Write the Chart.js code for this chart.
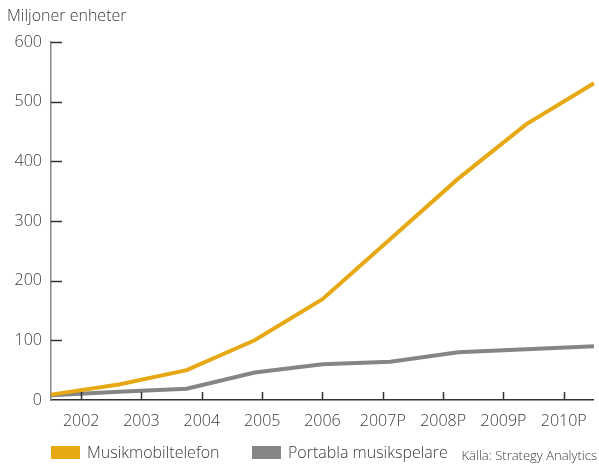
<!DOCTYPE html>
<html>
<head>
<meta charset="utf-8">
<script src="https://cdn.jsdelivr.net/npm/chart.js@4"></script>
<style>
  body { margin: 0; background: #fff; }
  #wrap { width: 599px; height: 464px; position: relative; }
</style>
</head>
<body>
<div id="wrap"><canvas id="chartMusik"></canvas></div>
<script>
const years = ["2002", "2003", "2004", "2005", "2006", "2007P", "2008P", "2009P", "2010P"];
const mobiltelefon = [9, 26, 50, 100, 169, 270, 371, 462, 531];
const musikspelare = [8, 14, 19, 46, 60, 64, 80, 85, 90];
const yTicks = [0, 100, 200, 300, 400, 500, 600];

const FONT = "'Open Sans', 'Liberation Sans', sans-serif";
const textColor = "#3a3a3a";

// tick marks pointing into the plot, title, legend and source line
const extras = {
    id: 'extras',
    afterDraw(chart) {
        let ctx = chart.ctx;
        let area = chart.chartArea;
        let xs = chart.scales.x2;
        let ys = chart.scales.y;

        ctx.save();
        ctx.strokeStyle = "#333";
        ctx.lineWidth = 1.5;
        ctx.beginPath();
        for (let i = 0; i < years.length; i++) {
            let px = Math.round(xs.getPixelForTick(i)) + 0.5;
            ctx.moveTo(px, area.bottom);
            ctx.lineTo(px, area.bottom - 8);
        }
        for (let v of yTicks) {
            if (v === 0) continue;
            let py = Math.round(ys.getPixelForValue(v)) + 0.5;
            ctx.moveTo(area.left, py);
            ctx.lineTo(area.left + 11, py);
        }
        ctx.stroke();

        ctx.fillStyle = textColor;
        ctx.font = "300 16px " + FONT;
        ctx.textBaseline = "alphabetic";
        ctx.textAlign = "left";
        ctx.fillText("Miljoner enheter", 7, 21);

        // legend
        let ds = chart.data.datasets;
        let lx = [area.left, 252];
        for (let i = 0; i < ds.length; i++) {
            ctx.fillStyle = ds[i].borderColor;
            ctx.fillRect(lx[i], 446, 29, 13);
            ctx.fillStyle = textColor;
            ctx.font = "300 16px " + FONT;
            ctx.fillText(ds[i].label, lx[i] + 36, 458);
        }

        ctx.font = "300 13px " + FONT;
        ctx.textAlign = "right";
        ctx.fillText("Källa: Strategy Analytics", 597, 460);
        ctx.restore();
    }
};

new Chart(document.getElementById("chartMusik"), {
    type: 'line',
    data: {
        labels: years,
        datasets: [{
            label: "Musikmobiltelefon",
            data: mobiltelefon,
            borderColor: "#E6A813",
            backgroundColor: "#E6A813",
            borderWidth: 4,
            pointRadius: 0,
            tension: 0
        }, {
            label: "Portabla musikspelare",
            data: musikspelare,
            borderColor: "#858585",
            backgroundColor: "#858585",
            borderWidth: 4,
            pointRadius: 0,
            tension: 0
        }]
    },
    options: {
        responsive: true,
        maintainAspectRatio: false,
        animation: false,
        layout: { padding: { top: 42, right: 1, left: 0, bottom: 0 } },
        plugins: {
            legend: { display: false },
            tooltip: { enabled: false }
        },
        scales: {
            x: {
                type: 'category',
                display: false,
                offset: false
            },
            x2: {
                type: 'category',
                labels: years,
                position: 'bottom',
                offset: true,
                grid: { display: false, drawTicks: false },
                border: { display: true, color: "#333", width: 1.5 },
                ticks: {
                    color: textColor,
                    padding: 12,
                    maxRotation: 0,
                    autoSkip: false,
                    font: { family: FONT, size: 16, weight: 300 }
                },
                afterFit: (scale) => { scale.height = 64; }
            },
            y: {
                min: 0,
                max: 600,
                grid: { display: false, drawTicks: false },
                border: { display: true, color: "#888", width: 1.5 },
                ticks: {
                    stepSize: 100,
                    color: textColor,
                    padding: 9,
                    font: { family: FONT, size: 16, weight: 300 }
                },
                afterFit: (scale) => { scale.width = 51; }
            }
        }
    },
    plugins: [extras]
});
</script>
</body>
</html>
